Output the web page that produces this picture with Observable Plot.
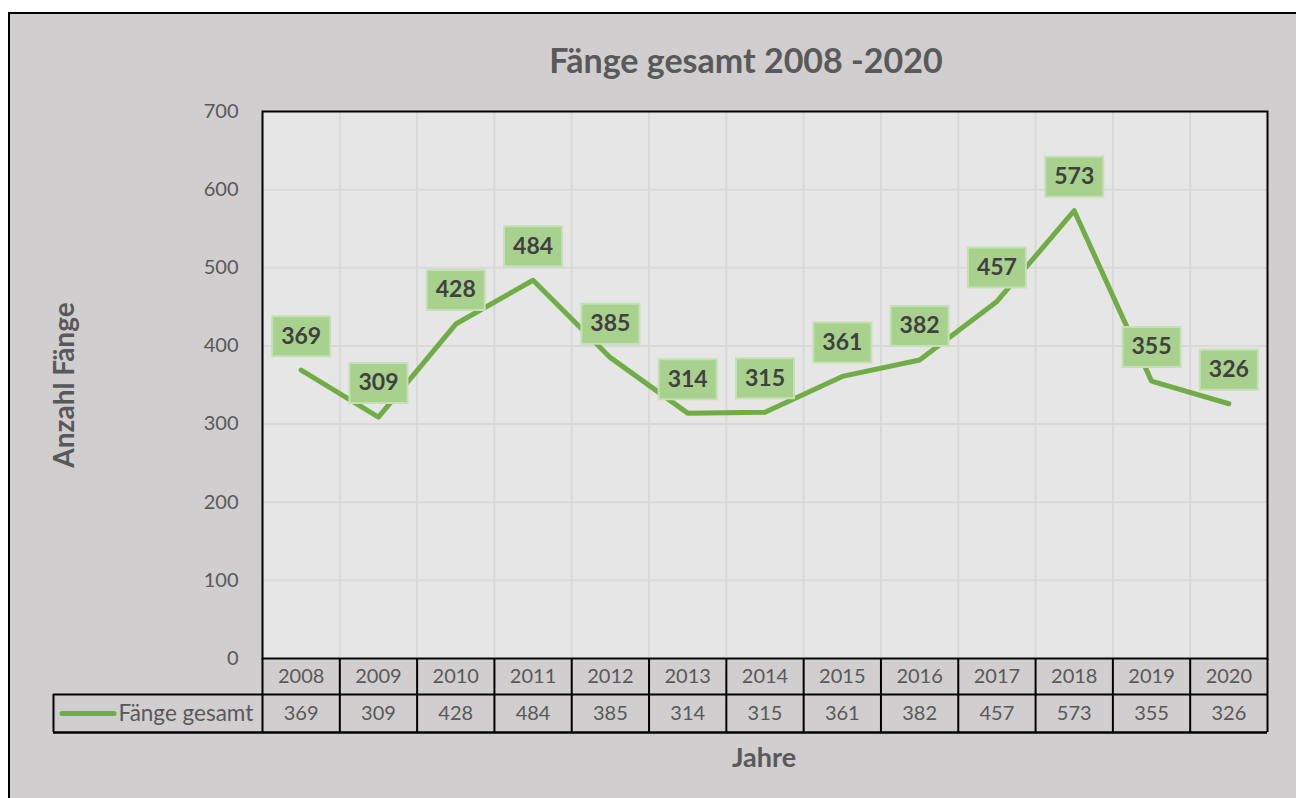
<!DOCTYPE html>
<html>
<head>
<meta charset="utf-8">
<script src="https://cdn.jsdelivr.net/npm/d3@7"></script>
<script src="https://cdn.jsdelivr.net/npm/@observablehq/plot@0.6"></script>
<style>
  html, body { margin: 0; padding: 0; background: #ffffff; width: 1296px; height: 798px; overflow: hidden; }
  #frame { position: absolute; left: 8px; top: 12px; width: 1400px; height: 900px; background: #d0cece; border-left: 2px solid #000; border-top: 2px solid #000; }
  #chart { position: absolute; left: 0; top: 0; }
  .lbl { position: absolute; font-family: Lato, "Open Sans", sans-serif; font-weight: bold; color: #595959; white-space: nowrap; }
  #title { left: 0; width: 1492px; text-align: center; top: 39px; font-size: 34px; line-height: 42px; }
  #ylab { left: 63px; top: 385px; font-size: 28px; line-height: 34px; transform: translate(-50%, -50%) rotate(-90deg); }
  #xlab { left: 0; width: 1528px; text-align: center; top: 741px; font-size: 27px; line-height: 32px; }
</style>
</head>
<body>
<div id="frame"></div>
<div id="chart"></div>
<div id="title" class="lbl"></div>
<div id="ylab" class="lbl"></div>
<div id="xlab" class="lbl"></div>
<script>
// ---- data ----
const years = ["2008","2009","2010","2011","2012","2013","2014","2015","2016","2017","2018","2019","2020"];
const values = [369, 309, 428, 484, 385, 314, 315, 361, 382, 457, 573, 355, 326];
const yTicks = [0, 100, 200, 300, 400, 500, 600, 700];
const seriesName = "Fänge gesamt";
const titleText = "Fänge gesamt 2008 -2020";
const yLabelText = "Anzahl Fänge";
const xLabelText = "Jahre";

document.getElementById("title").textContent = titleText;
document.getElementById("ylab").textContent = yLabelText;
document.getElementById("xlab").textContent = xLabelText;

const data = years.map((year, i) => ({i, year, value: values[i]}));
const bounds = years.map((_, i) => i - 0.5).concat([years.length - 0.5]);
const innerBounds = bounds.slice(1, -1);
const gridY = yTicks.slice(1, -1);

const W = 1296, H = 798;
const mL = 262, mR = 29, mT = 111, mB = 140;
const frameH = H - mT - mB;
const plotRight = W - mR;

const green = "#70ad47";
const labelRect = { draw(ctx) { ctx.rect(-29, -20, 58, 40); } };

const chart = Plot.plot({
  width: W, height: H,
  marginLeft: mL, marginRight: mR, marginTop: mT, marginBottom: mB,
  style: { background: "transparent", fontFamily: "Lato, 'Open Sans', sans-serif", fontSize: "20px", color: "#595959" },
  x: { type: "linear", domain: [-0.5, years.length - 0.5], axis: null },
  y: { domain: [0, 700], ticks: yTicks, tickSize: 0, tickPadding: 24, label: null },
  marks: [
    Plot.frame({ fill: "#e7e6e6", stroke: "none" }),
    Plot.ruleY(gridY, { stroke: "#d9d9d9", strokeWidth: 2 }),
    Plot.ruleX(innerBounds, { stroke: "#d9d9d9", strokeWidth: 2 }),
    Plot.frame({ stroke: "#000", strokeWidth: 2 }),
    // table
    Plot.ruleX(bounds, { stroke: "#000", strokeWidth: 2, insetTop: frameH, insetBottom: -74 }),
    Plot.ruleX([-0.5], { stroke: "#000", strokeWidth: 2, dx: -209, insetTop: frameH + 36, insetBottom: -74 }),
    Plot.ruleY([0], { stroke: "#000", strokeWidth: 2, dy: 36, insetLeft: -209 }),
    Plot.ruleY([0], { stroke: "#000", strokeWidth: 2.5, dy: 74, insetLeft: -209 }),
    Plot.text(data, { x: "i", text: "year", frameAnchor: "bottom", lineAnchor: "middle", dy: 18, fill: "#595959", fontSize: 20 }),
    Plot.text(data, { x: "i", text: d => String(d.value), frameAnchor: "bottom", lineAnchor: "middle", dy: 55, fill: "#595959", fontSize: 20 }),
    Plot.ruleY([0], { stroke: green, strokeWidth: 5, strokeLinecap: "round", dy: 55, insetLeft: -(mL - 62), insetRight: plotRight - 114 }),
    Plot.text([seriesName], { frameAnchor: "bottom-left", lineAnchor: "middle", dx: -144, dy: 55, textAnchor: "start", fill: "#595959", fontSize: 22.5 }),
    // series
    Plot.line(data, { x: "i", y: "value", stroke: green, strokeWidth: 5, strokeLinejoin: "round", strokeLinecap: "round" }),
    Plot.dot(data, { x: "i", y: "value", symbol: labelRect, fill: "#a9d18e", stroke: "#c5e0b4", strokeWidth: 2, dy: -34 }),
    Plot.text(data, { x: "i", y: "value", text: d => String(d.value), dy: -34, fill: "#404040", fontSize: 23, fontWeight: "bold" })
  ]
});
document.getElementById("chart").appendChild(chart);
</script>
</body>
</html>
